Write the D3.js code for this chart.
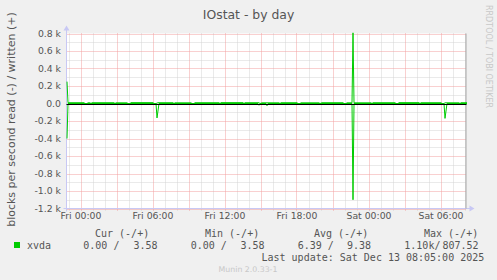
<!DOCTYPE html>
<html>
<head>
<meta charset="utf-8">
<script src="https://cdn.jsdelivr.net/npm/d3@7"></script>
<style>
  html, body { margin: 0; padding: 0; background: #F0F0F0; }
  svg { display: block; }
  text { font-family: "DejaVu Sans", sans-serif; fill: #555; }
  .mono { font-family: "DejaVu Sans Mono", monospace; }
</style>
</head>
<body>
<script>
// ---------------- data ----------------
const titleText = "IOstat - by day";
const yAxisTitle = "blocks per second read (-) / written (+)";
const seriesName = "xvda";
// samples: [minutes after Thu 22:50, blocks/s]
const writtenSamples = [
  [0, 250], [5, 9], [85, 9], [90, 0], [100, 0], [105, 8], [115, 8], [120, 0], [125, 9],
  [235, 9], [240, 0], [245, 8], [300, 8], [305, 0], [315, 0], [320, 10], [430, 10],
  [435, 0], [445, 0], [455, 9], [530, 9], [535, 0], [540, 8], [620, 8], [625, 0],
  [635, 0], [640, 9], [760, 9], [765, 0], [770, 10], [880, 10], [885, 0], [890, 9],
  [960, 9], [965, 0], [975, 8], [1060, 8], [1065, 0], [1070, 9], [1150, 9], [1155, 0],
  [1165, 0], [1170, 8], [1260, 8], [1265, 0], [1275, 9], [1380, 9], [1385, 0], [1395, 0],
  [1400, 8], [1425, 8], [1430, 807.52], [1435, 8], [1520, 8], [1525, 0], [1530, 9],
  [1640, 9], [1645, 0], [1655, 0], [1660, 10], [1760, 10], [1765, 0], [1770, 9],
  [1870, 9], [1875, 0], [1885, 0], [1890, 8], [1960, 8], [1965, 0], [1970, 9], [2000, 9]
];
const readSamples = [
  [0, 400], [5, 0], [445, 0], [450, 165], [460, 0], [955, 0], [960, 20], [965, 0],
  [995, 0], [1000, 25], [1005, 0], [1385, 0], [1390, 15], [1395, 0], [1425, 0],
  [1430, 1100], [1435, 0], [1885, 0], [1890, 170], [1900, 0], [2000, 0]
];
const yTickValues = [800, 600, 400, 200, 0, -200, -400, -600, -800, -1000, -1200];
const yTickLabels = ["0.8 k", "0.6 k", "0.4 k", "0.2 k", "0.0", "-0.2 k", "-0.4 k", "-0.6 k", "-0.8 k", "-1.0 k", "-1.2 k"];
const xTickTimes = [
  new Date(2025, 11, 12, 0, 0), new Date(2025, 11, 12, 6, 0), new Date(2025, 11, 12, 12, 0),
  new Date(2025, 11, 12, 18, 0), new Date(2025, 11, 13, 0, 0), new Date(2025, 11, 13, 6, 0)
];
const xTickLabels = ["Fri 00:00", "Fri 06:00", "Fri 12:00", "Fri 18:00", "Sat 00:00", "Sat 06:00"];
const legendHeaders = ["Cur (-/+)", "Min (-/+)", "Avg (-/+)", "Max (-/+)"];
const legendRead = ["0.00 /", "0.00 /", "6.39 /", "1.10k/"];
const legendWritten = ["3.58", "3.58", "9.38", "807.52"];
const lastUpdate = "Last update: Sat Dec 13 08:05:00 2025";
const rrdText = "RRDTOOL / TOBI OETIKER";
const muninText = "Munin 2.0.33-1";
const startTime = new Date(2025, 11, 11, 22, 50);
const endTime = new Date(2025, 11, 13, 8, 10);

// ---------------- layout ----------------
const W = 497, H = 280;
const L = 66.5, R = 466.5, T = 33.5, B = 208.5;
const green = "#00CC00";

const svg = d3.select("body").append("svg").attr("width", W).attr("height", H);
svg.append("rect").attr("width", W).attr("height", H).attr("fill", "#F0F0F0");

const x = d3.scaleTime().domain([startTime, endTime]).range([L, R]);
const y = d3.scaleLinear().domain([-1200, 800]).range([B, T]);
const tm = m => new Date(startTime.getTime() + m * 60000);

svg.append("rect").attr("x", L).attr("y", T).attr("width", R - L).attr("height", B - T).attr("fill", "#fff");

// minor grid
const g = svg.append("g");
g.selectAll(".hmin").data(d3.range(-1100, 800, 200)).join("line")
  .attr("x1", L).attr("x2", R).attr("y1", d => Math.round(y(d)) + 0.5).attr("y2", d => Math.round(y(d)) + 0.5)
  .attr("stroke", "#d4d4d4").attr("stroke-dasharray", "1,1");
const hours = d3.timeHour.range(startTime, endTime).filter(d => d.getHours() % 3 !== 0);
g.selectAll(".vmin").data(hours).join("line")
  .attr("x1", d => Math.round(x(d)) + 0.5).attr("x2", d => Math.round(x(d)) + 0.5)
  .attr("y1", T).attr("y2", B + 2)
  .attr("stroke", "#d4d4d4").attr("stroke-dasharray", "1,1");
// major grid
g.selectAll(".hmaj").data(yTickValues).join("line")
  .attr("x1", L).attr("x2", R).attr("y1", d => Math.round(y(d)) + 0.5).attr("y2", d => Math.round(y(d)) + 0.5)
  .attr("stroke", "#f2a0a0").attr("stroke-dasharray", "1,1");
const hours3 = d3.timeHour.range(startTime, endTime).filter(d => d.getHours() % 3 === 0);
g.selectAll(".vmaj").data(hours3).join("line")
  .attr("x1", d => Math.round(x(d)) + 0.5).attr("x2", d => Math.round(x(d)) + 0.5)
  .attr("y1", T).attr("y2", B + 3)
  .attr("stroke", "#f2a0a0").attr("stroke-dasharray", "1,1");

// axis lines with arrows
const axisCol = "#c8c8f4";
svg.append("line").attr("x1", L).attr("x2", L).attr("y1", B + 3).attr("y2", T - 4).attr("stroke", axisCol);
svg.append("path").attr("d", `M${L - 3},${T - 3} L${L},${T - 8} L${L + 3},${T - 3} Z`).attr("fill", axisCol);
svg.append("line").attr("x1", L - 3).attr("x2", R + 4).attr("y1", B).attr("y2", B).attr("stroke", axisCol);
svg.append("path").attr("d", `M${R + 3},${B - 3} L${R + 8},${B} L${R + 3},${B + 3} Z`).attr("fill", axisCol);
// right border
svg.append("line").attr("x1", R - 0.5).attr("x2", R - 0.5).attr("y1", T).attr("y2", B).attr("stroke", "#a0a0a0");

// data lines
const line = d3.line().x(d => x(tm(d[0])) + 0.5).y(d => y(d[1]));
svg.append("path").datum(readSamples.map(d => [d[0], -d[1]])).attr("d", line)
  .attr("fill", "none").attr("stroke", green).attr("stroke-width", 1);
svg.append("path").datum(writtenSamples).attr("d", line)
  .attr("fill", "none").attr("stroke", green).attr("stroke-width", 1);

// zero line
svg.append("line").attr("x1", L).attr("x2", R).attr("y1", Math.round(y(0)) + 0.5).attr("y2", Math.round(y(0)) + 0.5)
  .attr("stroke", "#000").attr("stroke-width", 1);

// axes labels
const yAx = svg.append("g").attr("transform", "translate(64,0)")
  .call(d3.axisLeft(y).tickValues(yTickValues).tickFormat((d, i) => yTickLabels[i]).tickSize(0).tickPadding(3));
yAx.select(".domain").remove();
yAx.selectAll("text").style("font-family", "DejaVu Sans").style("font-size", "9.3px").attr("fill", "#555");

const xAx = svg.append("g").attr("transform", `translate(0,${B})`)
  .call(d3.axisBottom(x).tickValues(xTickTimes).tickFormat((d, i) => xTickLabels[i]).tickSize(0).tickPadding(4));
xAx.select(".domain").remove();
xAx.selectAll("text").style("font-family", "DejaVu Sans").style("font-size", "9.3px").attr("fill", "#555");

// title
svg.append("text").attr("x", 248.5).attr("y", 18.5).attr("text-anchor", "middle")
  .style("font-size", "12.4px").text(titleText);
// y axis title
svg.append("text").attr("transform", "translate(14.5,119.5) rotate(-90)").attr("text-anchor", "middle")
  .style("font-size", "11px").text(yAxisTitle);
// rrdtool
svg.append("text").attr("transform", "translate(485.5,5) rotate(90)").attr("text-anchor", "start")
  .style("font-size", "8px").style("fill", "#c8c8c8").text(rrdText);

// legend
svg.append("rect").attr("x", 14).attr("y", 242).attr("width", 6).attr("height", 6).attr("fill", green);
svg.append("text").attr("class", "mono").attr("x", 27).attr("y", 249).style("font-size", "10px").text(seriesName);
const headerX = [95, 205, 314, 424];
const readX = [83.3, 190.7, 297.7, 404.3];
const writtenEndX = [157.5, 264.5, 371, 478.5];
legendHeaders.forEach((h, i) => {
  svg.append("text").attr("class", "mono").attr("x", headerX[i]).attr("y", 237)
    .style("font-size", "10px").style("white-space", "pre").text(h);
  svg.append("text").attr("class", "mono").attr("x", readX[i]).attr("y", 249)
    .style("font-size", "10px").style("white-space", "pre").text(legendRead[i]);
  svg.append("text").attr("class", "mono").attr("x", writtenEndX[i]).attr("y", 249).attr("text-anchor", "end")
    .style("font-size", "10px").text(legendWritten[i]);
});
svg.append("text").attr("class", "mono").attr("x", 261.5).attr("y", 261)
  .style("font-size", "10px").style("white-space", "pre").text(lastUpdate);
svg.append("text").attr("x", 248).attr("y", 271.5).attr("text-anchor", "middle")
  .style("font-size", "7.8px").style("fill", "#c8c8c8").text(muninText);
</script>
</body>
</html>
